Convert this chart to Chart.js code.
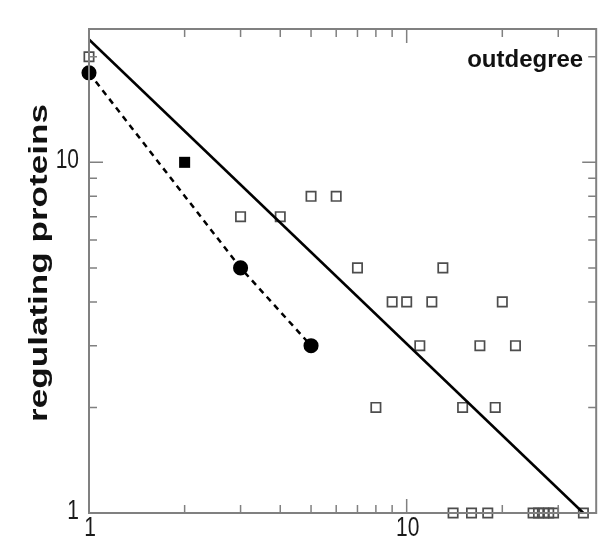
<!DOCTYPE html>
<html>
<head>
<meta charset="utf-8">
<script src="https://cdn.jsdelivr.net/npm/chart.js@4/dist/chart.umd.min.js"></script>
<style>
  html, body { margin: 0; padding: 0; background: #fff; }
  #wrap { width: 605px; height: 541px; }
</style>
</head>
<body>
<div id="wrap"><canvas id="c" width="605" height="541"></canvas></div>
<script>
// ---- data ----
const openX = [1, 3, 4, 5, 6, 7, 8, 9, 10, 11, 12, 13, 14, 15, 16, 17, 18, 19, 20, 22, 25, 26, 27, 28, 29, 36];
const openY = [20, 7, 7, 8, 8, 5, 2, 4, 4, 3, 4, 5, 1, 2, 1, 3, 1, 2, 4, 3, 1, 1, 1, 1, 1, 1];
const circleX = [1, 3, 5];
const circleY = [18, 5, 3];
const filledSquareX = [2];
const filledSquareY = [10];
const fitX = [1, 36];
const fitY = [22.4, 1];
const xTickLabels = [1, 10];
const yTickLabels = [1, 10];
const yTitle = 'regulating proteins';
const panelLabel = 'outdegree';

const pts = (xs, ys) => xs.map((x, i) => ({ x: x, y: ys[i] }));

const frame = {
  id: 'frame',
  afterDraw(chart) {
    const ctx = chart.ctx;
    const a = chart.chartArea;
    const xs = chart.scales.x, ys = chart.scales.y;
    ctx.save();
    ctx.strokeStyle = '#808080';
    ctx.lineWidth = 2;
    ctx.strokeRect(a.left, a.top, a.right - a.left, a.bottom - a.top);
    ctx.lineWidth = 1.5;
    const major = 14, minor = 8;
    // x ticks (bottom and top)
    for (let d = 1; d <= 100; d *= 10) {
      for (let k = 1; k <= 9; k++) {
        const v = k * d;
        if (v < xs.min || v > xs.max) continue;
        const px = xs.getPixelForValue(v);
        const len = k === 1 ? major : minor;
        ctx.beginPath();
        ctx.moveTo(px, a.bottom); ctx.lineTo(px, a.bottom - len);
        ctx.moveTo(px, a.top); ctx.lineTo(px, a.top + len);
        ctx.stroke();
      }
    }
    // y ticks (left and right)
    for (let d = 1; d <= 100; d *= 10) {
      for (let k = 1; k <= 9; k++) {
        const v = k * d;
        if (v < ys.min || v > ys.max) continue;
        const py = ys.getPixelForValue(v);
        const len = k === 1 ? major : minor;
        ctx.beginPath();
        ctx.moveTo(a.left, py); ctx.lineTo(a.left + len, py);
        ctx.moveTo(a.right, py); ctx.lineTo(a.right - len, py);
        ctx.stroke();
      }
    }
    // tick labels (stretched vertically like the scanned figure)
    ctx.fillStyle = '#1a1a1a';
    ctx.font = '21px "Liberation Sans", Arial, sans-serif';
    ctx.textBaseline = 'middle';
    const sy = 1.35;
    xTickLabels.forEach(v => {
      const px = xs.getPixelForValue(v);
      ctx.save();
      ctx.translate(px + 1, a.bottom + 15);
      ctx.scale(1, sy);
      ctx.textAlign = 'center';
      ctx.fillText(String(v), 0, 0);
      ctx.restore();
    });
    yTickLabels.forEach(v => {
      const py = ys.getPixelForValue(v);
      ctx.save();
      ctx.translate(a.left - 10, py - 2);
      ctx.scale(1, sy);
      ctx.textAlign = 'right';
      ctx.fillText(String(v), 0, 0);
      ctx.restore();
    });
    // y axis title
    ctx.save();
    ctx.fillStyle = '#111';
    ctx.font = 'bold 26px "Liberation Sans", Arial, sans-serif';
    ctx.translate(40, (a.top + a.bottom) / 2 - 8);
    ctx.rotate(-Math.PI / 2);
    ctx.scale(sy, 1);
    ctx.textAlign = 'center';
    ctx.textBaseline = 'middle';
    ctx.fillText(yTitle, 0, 0);
    ctx.restore();
    // panel label
    ctx.fillStyle = '#111';
    ctx.font = 'bold 24px "Liberation Sans", Arial, sans-serif';
    ctx.textAlign = 'right';
    ctx.textBaseline = 'alphabetic';
    ctx.fillText(panelLabel, a.right - 13, a.top + 38);
    ctx.restore();
  }
};

new Chart(document.getElementById('c'), {
  type: 'scatter',
  data: {
    datasets: [
      {
        label: 'fit',
        data: pts(fitX, fitY),
        showLine: true,
        borderColor: '#000',
        borderWidth: 2.5,
        pointRadius: 0,
        clip: false
      },
      {
        label: 'circles',
        data: pts(circleX, circleY),
        showLine: true,
        borderColor: '#000',
        borderWidth: 2.5,
        borderDash: [6, 5],
        pointStyle: 'circle',
        pointRadius: 6.3,
        pointBackgroundColor: '#000',
        pointBorderColor: '#000',
        clip: false
      },
      {
        label: 'filled square',
        data: pts(filledSquareX, filledSquareY),
        pointStyle: 'rect',
        pointRadius: 7.8,
        pointBackgroundColor: '#000',
        pointBorderColor: '#000',
        borderWidth: 0,
        clip: false
      },
      {
        label: 'open squares',
        data: pts(openX, openY),
        pointStyle: 'rect',
        pointRadius: 6.6,
        pointBackgroundColor: 'rgba(255,255,255,0)',
        pointBorderColor: '#4d4d4d',
        pointBorderWidth: 1.7,
        clip: false
      }
    ]
  },
  options: {
    responsive: false,
    animation: false,
    events: [],
    layout: { padding: { left: 89, right: 4, top: 29, bottom: 28 } },
    plugins: { legend: { display: false }, tooltip: { enabled: false } },
    scales: {
      x: { type: 'logarithmic', min: 1, max: 39.5, display: false },
      y: { type: 'logarithmic', min: 1, max: 24, display: false }
    }
  },
  plugins: [frame]
});
</script>
</body>
</html>
